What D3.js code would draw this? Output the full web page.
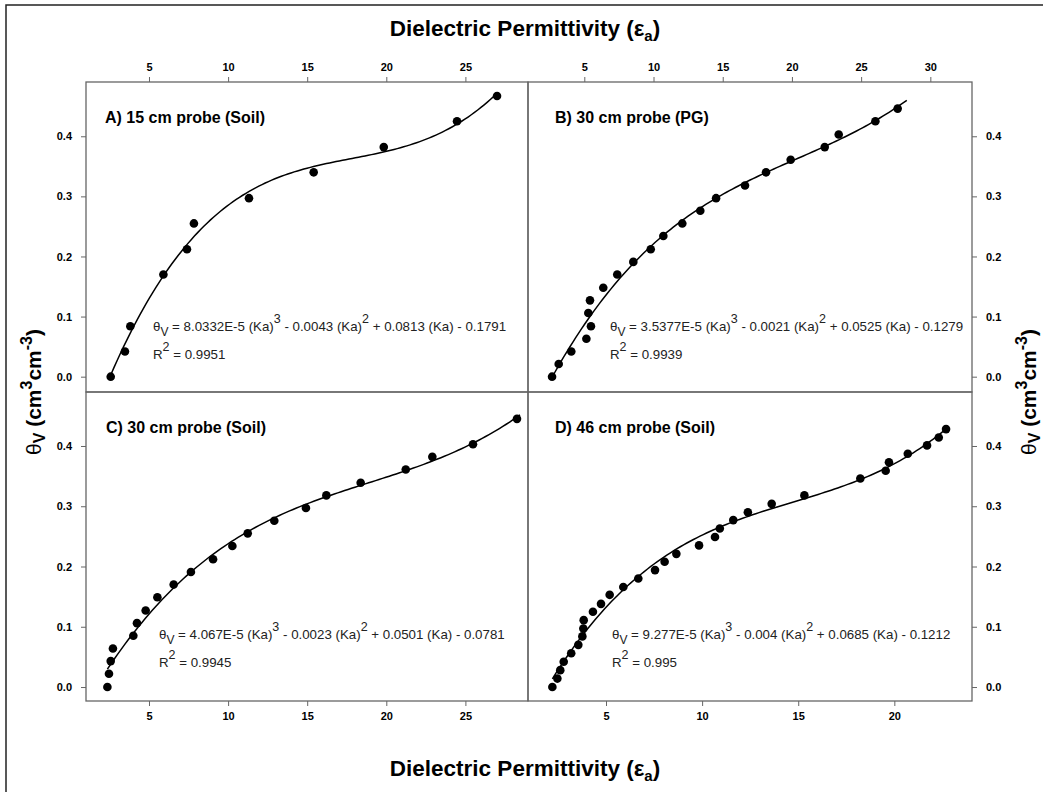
<!DOCTYPE html>
<html>
<head>
<meta charset="utf-8">
<script src="https://cdn.jsdelivr.net/npm/d3@7"></script>
<style>
  body { margin: 0; background: #fff; }
  svg { display: block; font-family: "Liberation Sans", Arial, sans-serif; }
</style>
</head>
<body>
<svg id="chart" width="1043" height="792"></svg>
<script>
// ---- data ----
const kaA = [2.58, 3.48, 3.82, 5.91, 7.40, 7.84, 11.32, 15.41, 19.84, 24.47, 27.0];
const thA = [0.000, 0.042, 0.084, 0.170, 0.212, 0.255, 0.297, 0.340, 0.382, 0.425, 0.467];

const kaB = [2.67, 3.15, 4.06, 5.15, 5.48, 5.29, 5.41, 6.37, 7.38, 8.54, 9.80, 10.71, 12.08, 13.38, 14.52, 16.61, 18.13, 19.91, 22.37, 23.38, 26.03, 27.64];
const thB = [0.000, 0.021, 0.042, 0.063, 0.084, 0.106, 0.127, 0.148, 0.170, 0.191, 0.212, 0.234, 0.255, 0.276, 0.297, 0.318, 0.340, 0.361, 0.382, 0.403, 0.425, 0.446];

const kaC = [2.37, 2.47, 2.58, 2.72, 4.01, 4.24, 4.79, 5.53, 6.56, 7.65, 9.05, 10.27, 11.24, 12.92, 14.92, 16.21, 18.38, 21.23, 22.91, 25.48, 28.26];
const thC = [0.000, 0.022, 0.043, 0.064, 0.085, 0.106, 0.127, 0.149, 0.170, 0.191, 0.212, 0.234, 0.255, 0.276, 0.297, 0.318, 0.339, 0.361, 0.382, 0.403, 0.445];

const kaD = [2.21, 2.47, 2.62, 2.80, 3.19, 3.56, 3.77, 3.82, 3.84, 4.32, 4.74, 5.19, 5.90, 6.68, 7.55, 8.05, 8.66, 9.84, 10.67, 10.92, 11.62, 12.38, 13.62, 15.32, 18.23, 19.55, 19.72, 20.70, 21.70, 22.31, 22.69];
const thD = [0.000, 0.014, 0.028, 0.042, 0.056, 0.070, 0.084, 0.097, 0.111, 0.125, 0.138, 0.153, 0.166, 0.180, 0.194, 0.208, 0.221, 0.235, 0.249, 0.263, 0.277, 0.290, 0.304, 0.318, 0.346, 0.359, 0.373, 0.387, 0.401, 0.414, 0.428];

// fitted-curve x extent per panel
const fitRangeA = [2.58, 27.0];
const fitRangeB = [2.67, 28.3];
const fitRangeC = [2.37, 28.45];
const fitRangeD = [2.21, 22.69];

const panelTitles = ["A) 15 cm probe (Soil)", "B) 30 cm probe (PG)", "C) 30 cm probe (Soil)", "D) 46 cm probe (Soil)"];
const eqCoefs = [
    ["8.0332E-5", "0.0043", "0.0813", "0.1791"],
    ["3.5377E-5", "0.0021", "0.0525", "0.1279"],
    ["4.067E-5", "0.0023", "0.0501", "0.0781"],
    ["9.277E-5", "0.004", "0.0685", "0.1212"],
];
const r2Values = ["0.9951", "0.9939", "0.9945", "0.995"];

const ticksXA = [5, 10, 15, 20, 25];
const ticksXB = [5, 10, 15, 20, 25, 30];
const ticksXC = [5, 10, 15, 20, 25];
const ticksXD = [5, 10, 15, 20];
const ticksY = [0, 0.1, 0.2, 0.3, 0.4];

// ---- layout ----
const W = 1043, H = 792;
const leftX = 86, midX = 528, rightX = 972;
const topY = 82, midY = 392, bottomY = 701;
const frameColor = "#666";

const svg = d3.select("#chart");
svg.append("rect").attr("width", W).attr("height", H).attr("fill", "#fff");

// outer frame of the figure
svg.append("rect")
    .attr("x", 6).attr("y", 5)
    .attr("width", W + 20).attr("height", H + 20)
    .attr("fill", "none")
    .attr("stroke", "#222")
    .attr("stroke-width", 1.5);

// least squares cubic through the points
const cubicFit = (xs, ys) => {
    const n = 4;
    const M = Array.from({ length: n }, () => new Array(n + 1).fill(0));
    xs.forEach((x, i) => {
        const p = [1, x, x * x, x * x * x];
        for (let r = 0; r < n; r++) {
            for (let c = 0; c < n; c++) M[r][c] += p[r] * p[c];
            M[r][n] += p[r] * ys[i];
        }
    });
    for (let k = 0; k < n; k++) {
        let piv = k;
        for (let r = k + 1; r < n; r++) if (Math.abs(M[r][k]) > Math.abs(M[piv][k])) piv = r;
        [M[k], M[piv]] = [M[piv], M[k]];
        for (let r = 0; r < n; r++) {
            if (r === k) continue;
            const f = M[r][k] / M[k][k];
            for (let c = k; c <= n; c++) M[r][c] -= f * M[k][c];
        }
    }
    return M.map((row, k) => row[n] / row[k]);
};

const yTop = d3.scaleLinear().domain([-0.0255, 0.4903]).range([midY, topY]);
const yBot = d3.scaleLinear().domain([-0.0232, 0.4896]).range([bottomY, midY]);

const panels = [
    { ka: kaA, th: thA, range: fitRangeA, x: d3.scaleLinear().domain([1.018, 28.957]).range([leftX, midX]), y: yTop,
      xTicks: ticksXA, xSide: "top", ySide: "left", lx: 105, ly: 123, ex: 153, ey: 330.5 },
    { ka: kaB, th: thB, range: fitRangeB, x: d3.scaleLinear().domain([0.932, 33.01]).range([midX, rightX]), y: yTop,
      xTicks: ticksXB, xSide: "top", ySide: "right", lx: 555, ly: 123, ex: 610, ey: 330.5 },
    { ka: kaC, th: thC, range: fitRangeC, x: d3.scaleLinear().domain([1.018, 28.957]).range([leftX, midX]), y: yBot,
      xTicks: ticksXC, xSide: "bottom", ySide: "left", lx: 106, ly: 433, ex: 159, ey: 638.5 },
    { ka: kaD, th: thD, range: fitRangeD, x: d3.scaleLinear().domain([0.942, 24.04]).range([midX, rightX]), y: yBot,
      xTicks: ticksXD, xSide: "bottom", ySide: "right", lx: 555, ly: 433, ex: 612, ey: 638.5 },
];

const styleAxis = (g) => {
    g.select(".domain").remove();
    g.selectAll(".tick line").attr("stroke", frameColor);
    g.selectAll(".tick text")
        .attr("font-size", 11)
        .attr("font-weight", "bold")
        .attr("font-family", "Liberation Sans, Arial, sans-serif")
        .attr("fill", "#000");
};

panels.forEach((p, i) => {
    const [x0, x1] = p.x.range();
    const [y1, y0] = p.y.range();
    const g = svg.append("g");

    g.append("rect")
        .attr("x", x0).attr("y", y0)
        .attr("width", x1 - x0).attr("height", y1 - y0)
        .attr("fill", "none")
        .attr("stroke", frameColor)
        .attr("stroke-width", 1.3);

    if (p.xSide === "top") {
        g.append("g").attr("transform", `translate(0,${y0})`)
            .call(d3.axisTop(p.x).tickValues(p.xTicks).tickSize(5).tickPadding(6).tickFormat(d3.format("d")))
            .call(styleAxis);
    } else {
        g.append("g").attr("transform", `translate(0,${y1})`)
            .call(d3.axisBottom(p.x).tickValues(p.xTicks).tickSize(5).tickPadding(6).tickFormat(d3.format("d")))
            .call(styleAxis);
    }
    if (p.ySide === "left") {
        g.append("g").attr("transform", `translate(${x0},0)`)
            .call(d3.axisLeft(p.y).tickValues(ticksY).tickSize(5).tickPadding(9).tickFormat(d3.format(".1f")))
            .call(styleAxis);
    } else {
        g.append("g").attr("transform", `translate(${x1},0)`)
            .call(d3.axisRight(p.y).tickValues(ticksY).tickSize(5).tickPadding(9).tickFormat(d3.format(".1f")))
            .call(styleAxis);
    }

    // regression curve
    const c = cubicFit(p.ka, p.th);
    const f = (k) => c[0] + c[1] * k + c[2] * k * k + c[3] * k * k * k;
    const xs = d3.range(121).map((j) => p.range[0] + (p.range[1] - p.range[0]) * j / 120);
    g.append("path")
        .datum(xs)
        .attr("fill", "none")
        .attr("stroke", "#000")
        .attr("stroke-width", 1.5)
        .attr("d", d3.line().x((d) => p.x(d)).y((d) => p.y(f(d))));

    // points
    g.selectAll("circle")
        .data(p.ka.map((k, j) => [k, p.th[j]]))
        .enter()
        .append("circle")
        .attr("cx", (d) => p.x(d[0]))
        .attr("cy", (d) => p.y(d[1]))
        .attr("r", 4.3)
        .attr("fill", "#000");

    // panel title
    g.append("text")
        .attr("x", p.lx).attr("y", p.ly)
        .attr("font-size", 16)
        .attr("font-weight", "bold")
        .text(panelTitles[i]);

    // equation
    const co = eqCoefs[i];
    const eq = g.append("text")
        .attr("x", p.ex).attr("y", p.ey)
        .attr("font-size", 13.3)
        .attr("fill", "#222")
        .attr("xml:space", "preserve");
    eq.append("tspan").text("θ");
    eq.append("tspan").attr("dy", 5).attr("font-size", 12).text("V");
    eq.append("tspan").attr("dy", -5).text(` = ${co[0]} (Ka)`);
    eq.append("tspan").attr("dy", -8).attr("font-size", 12.5).text("3");
    eq.append("tspan").attr("dy", 8).text(` - ${co[1]} (Ka)`);
    eq.append("tspan").attr("dy", -8).attr("font-size", 12.5).text("2");
    eq.append("tspan").attr("dy", 8).text(` + ${co[2]} (Ka) - ${co[3]}`);

    const r2 = g.append("text")
        .attr("x", p.ex).attr("y", p.ey + 28)
        .attr("font-size", 13.3)
        .attr("fill", "#222")
        .attr("xml:space", "preserve");
    r2.append("tspan").text("R");
    r2.append("tspan").attr("dy", -8).attr("font-size", 12.5).text("2");
    r2.append("tspan").attr("dy", 8).text(` = ${r2Values[i]}`);
});

// axis titles
const xTitle = (yPos) => {
    const t = svg.append("text")
        .attr("x", 525).attr("y", yPos)
        .attr("text-anchor", "middle")
        .attr("font-size", 22.5)
        .attr("font-weight", "bold");
    t.append("tspan").text("Dielectric Permittivity (ε");
    t.append("tspan").attr("dy", 5).attr("font-size", 15).text("a");
    t.append("tspan").attr("dy", -5).text(")");
};
xTitle(36);
xTitle(776);

const yTitle = (xPos) => {
    const t = svg.append("text")
        .attr("transform", `translate(${xPos},392) rotate(-90)`)
        .attr("text-anchor", "middle")
        .attr("font-size", 21)
        .attr("font-weight", "bold");
    t.append("tspan").attr("font-weight", "normal").text("θ");
    t.append("tspan").attr("dy", 4).attr("font-size", 16).text("V");
    t.append("tspan").attr("dy", -4).text(" (cm");
    t.append("tspan").attr("dy", -9).attr("font-size", 16).text("3");
    t.append("tspan").attr("dy", 9).text("cm");
    t.append("tspan").attr("dy", -9).attr("font-size", 16).text("-3");
    t.append("tspan").attr("dy", 9).text(")");
};
yTitle(41);
yTitle(1036);
</script>
</body>
</html>
